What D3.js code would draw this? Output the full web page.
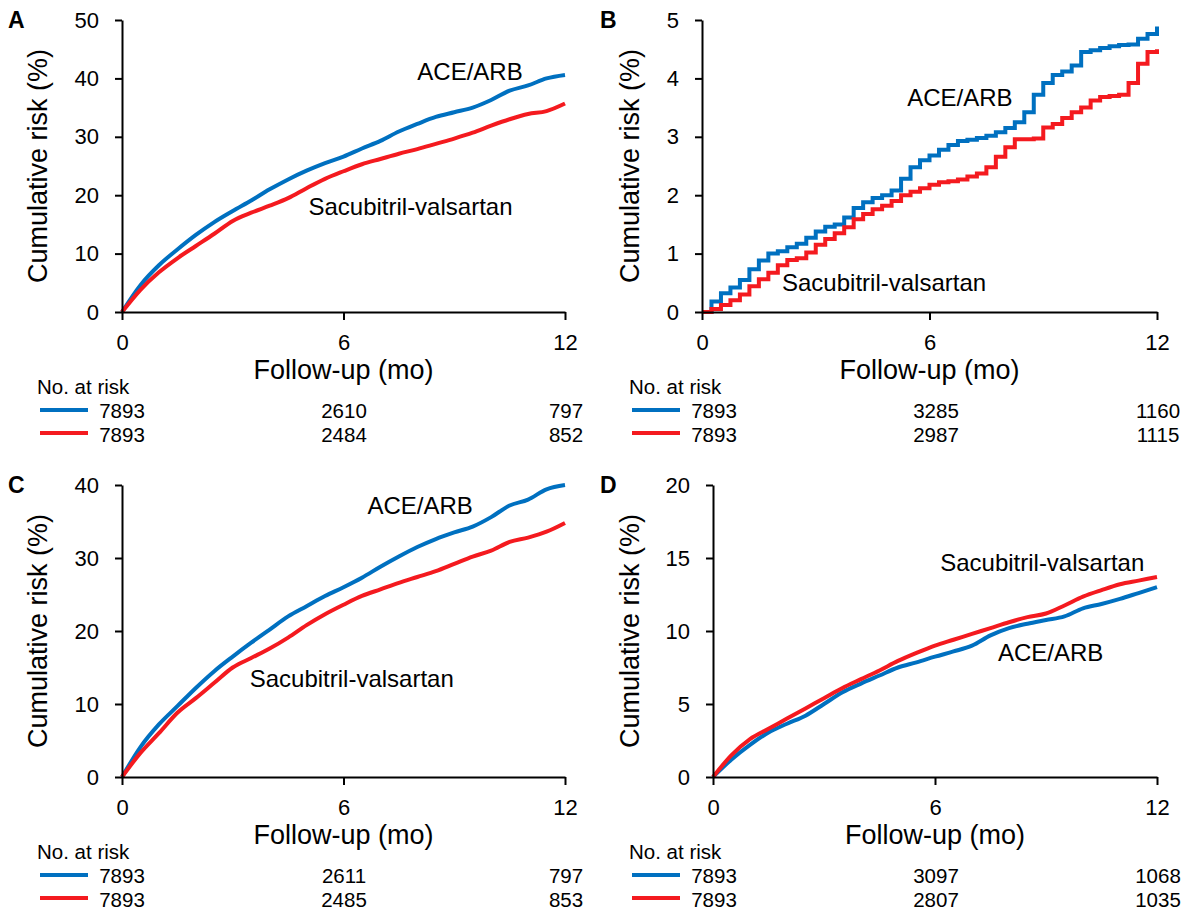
<!DOCTYPE html>
<html>
<head>
<meta charset="utf-8">
<script src="https://cdn.jsdelivr.net/npm/d3@7"></script>
<style>
  body { margin: 0; background: #fff; }
  svg { display: block; font-family: Arial, "Liberation Sans", Helvetica, sans-serif; }
</style>
</head>
<body>
<svg id="chart" width="1193" height="914"></svg>
<script>
	// follow-up grid (months) used for the read-off values
	const halfMonths = [0, 0.5, 1, 1.5, 2, 2.5, 3, 3.5, 4, 4.5, 5, 5.5, 6, 6.5, 7, 7.5, 8, 8.5, 9, 9.5, 10, 10.5, 11, 11.5, 12];
	const quarterMonths = [0, 0.25, 0.5, 0.75, 1, 1.25, 1.5, 1.75, 2, 2.25, 2.5, 2.75, 3, 3.25, 3.5, 3.75,
		4, 4.25, 4.5, 4.75, 5, 5.25, 5.5, 5.75, 6, 6.25, 6.5, 6.75, 7, 7.25, 7.5, 7.75,
		8, 8.25, 8.5, 8.75, 9, 9.25, 9.5, 9.75, 10, 10.25, 10.5, 10.75, 11, 11.25, 11.5, 11.75, 12];

	// cumulative risk (%)
	const aAce = [0, 4.6, 8.0, 10.7, 13.2, 15.4, 17.3, 19.1, 21.0, 22.7, 24.2, 25.5, 26.6, 28.0, 29.3, 30.9, 32.2, 33.4, 34.2, 35.0, 36.3, 37.9, 38.8, 40.0, 40.6];
	const aSac = [0, 3.8, 6.8, 9.2, 11.3, 13.4, 15.6, 17.0, 18.2, 19.5, 21.2, 22.8, 24.1, 25.3, 26.2, 27.1, 27.9, 28.8, 29.7, 30.7, 31.9, 33.0, 33.9, 34.4, 35.7];

	const bAce = [0, 0.18, 0.32, 0.42, 0.55, 0.73, 0.88, 1.0, 1.04, 1.11, 1.17, 1.27, 1.38, 1.46, 1.50, 1.62,
		1.78, 1.88, 1.95, 2.0, 2.08, 2.28, 2.48, 2.60, 2.68, 2.78, 2.86, 2.93, 2.95, 2.98, 3.02, 3.08,
		3.15, 3.25, 3.42, 3.72, 3.92, 4.06, 4.12, 4.22, 4.45, 4.48, 4.52, 4.55, 4.57, 4.58, 4.68, 4.76, 4.89];
	const bSac = [0, 0.05, 0.12, 0.20, 0.30, 0.44, 0.56, 0.67, 0.80, 0.89, 0.92, 1.02, 1.15, 1.25, 1.35, 1.45,
		1.59, 1.68, 1.76, 1.82, 1.90, 2.00, 2.06, 2.12, 2.18, 2.22, 2.24, 2.27, 2.32, 2.37, 2.48, 2.66,
		2.82, 2.96, 2.96, 2.97, 3.16, 3.22, 3.32, 3.42, 3.50, 3.62, 3.68, 3.70, 3.72, 3.92, 4.25, 4.45, 4.50];

	const cAce = [0, 4.1, 7.2, 9.7, 12.2, 14.5, 16.5, 18.4, 20.2, 22.0, 23.4, 24.8, 26.0, 27.3, 28.8, 30.2, 31.5, 32.6, 33.5, 34.3, 35.6, 37.2, 38.0, 39.4, 40.0];
	const cSac = [0, 3.3, 6.0, 8.8, 10.8, 12.9, 15.0, 16.3, 17.6, 19.1, 20.8, 22.3, 23.6, 24.8, 25.7, 26.6, 27.4, 28.2, 29.2, 30.2, 31.0, 32.2, 32.8, 33.6, 34.8];

	const dAce = [0, 1.2, 2.2, 3.05, 3.65, 4.2, 5.0, 5.8, 6.4, 6.95, 7.5, 7.85, 8.24, 8.6, 9.0, 9.7, 10.2, 10.5, 10.75, 11.0, 11.55, 11.85, 12.2, 12.6, 13.0];
	const dSac = [0, 1.5, 2.6, 3.3, 4.0, 4.7, 5.4, 6.1, 6.7, 7.3, 7.95, 8.5, 9.0, 9.4, 9.8, 10.2, 10.6, 10.95, 11.2, 11.75, 12.35, 12.8, 13.2, 13.45, 13.7];

	// number at risk at 0, 6, 12 months
	const riskTimes = [0, 6, 12];
	const aRiskAce = [7893, 2610, 797], aRiskSac = [7893, 2484, 852];
	const bRiskAce = [7893, 3285, 1160], bRiskSac = [7893, 2987, 1115];
	const cRiskAce = [7893, 2611, 797], cRiskSac = [7893, 2485, 853];
	const dRiskAce = [7893, 3097, 1068], dRiskSac = [7893, 2807, 1035];

	const xTicks = [0, 6, 12];
	const aTicks = [0, 10, 20, 30, 40, 50];
	const bTicks = [0, 1, 2, 3, 4, 5];
	const cTicks = [0, 10, 20, 30, 40];
	const dTicks = [0, 5, 10, 15, 20];

	const ACE = "ACE/ARB", SAC = "Sacubitril-valsartan";
	const blue = "#0070C0", red = "#F41A1F";

	const svg = d3.select("#chart");

	const panels = [
		{letter: "A", ox: 0, oy: 0, left: 122, ticks: aTicks, months: halfMonths, ace: aAce, sac: aSac, step: false,
			riskAce: aRiskAce, riskSac: aRiskSac, aceLabel: [8.0, 39.7], sacLabel: [5.05, 16.6]},
		{letter: "B", ox: 592, oy: 0, left: 110, ticks: bTicks, months: quarterMonths, ace: bAce, sac: bSac, step: true,
			riskAce: bRiskAce, riskSac: bRiskSac, aceLabel: [5.41, 3.52], sacLabel: [2.11, 0.36]},
		{letter: "C", ox: 0, oy: 465, left: 122, ticks: cTicks, months: halfMonths, ace: cAce, sac: cSac, step: false,
			riskAce: cRiskAce, riskSac: cRiskSac, aceLabel: [6.65, 36.0], sacLabel: [3.46, 12.3]},
		{letter: "D", ox: 592, oy: 465, left: 121, ticks: dTicks, months: halfMonths, ace: dAce, sac: dSac, step: false,
			riskAce: dRiskAce, riskSac: dRiskSac, aceLabel: [7.7, 7.95], sacLabel: [6.14, 14.1]}
	];

	panels.forEach(drawPanel);

	function drawPanel(p) {
		const bottom = 312, top = 20, right = 565;
		const g = svg.append("g").attr("transform", `translate(${p.ox},${p.oy})`);
		const yMax = p.ticks[p.ticks.length - 1];

		const x = d3.scaleLinear().domain([0, 12]).range([p.left, right]);
		const y = d3.scaleLinear().domain([0, yMax]).range([bottom, top]);
		// table columns keep the same place in every panel
		const xRisk = d3.scaleLinear().domain([0, 12]).range([122, 566]);

		// curves first, axes drawn on top
		const line = d3.line()
			.x((d, i) => x(p.months[i]))
			.y(d => y(d))
			.curve(p.step ? d3.curveStepAfter : d3.curveMonotoneX);

		[[p.ace, blue], [p.sac, red]].forEach(([vals, col]) => {
			g.append("path")
				.attr("d", line(vals))
				.attr("fill", "none")
				.attr("stroke", col)
				.attr("stroke-width", 4);
		});

		const gX = g.append("g").attr("transform", `translate(0,${bottom})`)
			.call(d3.axisBottom(x).tickValues(xTicks).tickSize(8).tickSizeOuter(0).tickPadding(14));
		const gY = g.append("g").attr("transform", `translate(${p.left},0)`)
			.call(d3.axisLeft(y).tickValues(p.ticks).tickFormat(d3.format("d"))
				.tickSize(7).tickSizeOuter(0).tickPadding(16));

		[gX, gY].forEach(ax => {
			ax.select(".domain").attr("stroke", "#000").attr("stroke-width", 2);
			ax.selectAll(".tick line").attr("stroke", "#000").attr("stroke-width", 2);
			ax.selectAll(".tick text").attr("fill", "#000").style("font-size", "22px").attr("font-family", null);
		});

		// curve labels
		g.append("text").attr("x", x(p.aceLabel[0])).attr("y", y(p.aceLabel[1]))
			.style("font-size", "24px").text(ACE);
		g.append("text").attr("x", x(p.sacLabel[0])).attr("y", y(p.sacLabel[1]))
			.style("font-size", "24px").text(SAC);

		// axis titles
		g.append("text")
			.attr("transform", `translate(47,${(top + bottom) / 2}) rotate(-90)`)
			.attr("text-anchor", "middle")
			.style("font-size", "27px")
			.text("Cumulative risk (%)");
		g.append("text")
			.attr("x", (p.left + right) / 2).attr("y", bottom + 67)
			.attr("text-anchor", "middle")
			.style("font-size", "27px")
			.text("Follow-up (mo)");

		g.append("text").attr("x", 8).attr("y", 28)
			.style("font-size", "23px").style("font-weight", "bold")
			.text(p.letter);

		// number at risk table
		g.append("text").attr("x", 37).attr("y", bottom + 82)
			.style("font-size", "20.5px").text("No. at risk");

		[[p.riskAce, blue, 98, 106], [p.riskSac, red, 121, 130]].forEach(([counts, col, ly, ty]) => {
			g.append("line")
				.attr("x1", 40).attr("x2", 88)
				.attr("y1", bottom + ly).attr("y2", bottom + ly)
				.attr("stroke", col).attr("stroke-width", 4);
			g.append("g").selectAll("text")
				.data(counts)
				.enter()
				.append("text")
				.attr("x", (d, i) => xRisk(riskTimes[i]))
				.attr("y", bottom + ty)
				.attr("text-anchor", "middle")
				.style("font-size", "20.5px")
				.text(d => d);
		});
	}
</script>
</body>
</html>
